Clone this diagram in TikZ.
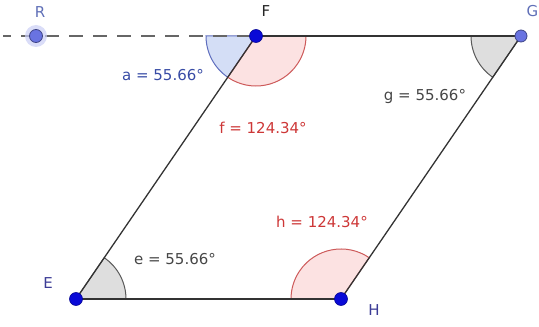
\documentclass[tikz,border=0pt]{standalone}
\usepackage{fontspec}
\setmainfont{DejaVu Sans}
\begin{document}
\begin{tikzpicture}[x=1pt,y=1pt,
  lbl/.style={inner sep=0pt,font=\fontsize{15}{18}\selectfont},
  ptlbl/.style={inner sep=0pt,font=\fontsize{15}{18}\selectfont},
  pt/.style={circle,fill=ptblue,draw=ptblue!70!black,line width=0.6pt,minimum size=13pt,inner sep=0pt},
  selpt/.style={circle,fill=selblue,draw=selblue!60!black,line width=0.8pt,minimum size=13pt,inner sep=0pt},
  seg/.style={draw=black!80,line width=1.3pt},
  bluesec/.style={fill=secblue,draw=secbluedraw,line width=1pt},
  redsec/.style={fill=secred,draw=secreddraw,line width=1pt},
  graysec/.style={fill=secgray,draw=secgraydraw,line width=1pt}]
\definecolor{ptblue}{RGB}{10,10,215}
\definecolor{selblue}{RGB}{105,115,225}
\definecolor{secblue}{RGB}{212,222,246}
\definecolor{secbluedraw}{RGB}{95,110,190}
\definecolor{secred}{RGB}{252,226,226}
\definecolor{secreddraw}{RGB}{205,90,90}
\definecolor{secgray}{RGB}{222,222,222}
\definecolor{secgraydraw}{RGB}{90,90,90}
\definecolor{txtblue}{RGB}{55,75,165}
\definecolor{txtred}{RGB}{205,55,55}
\definecolor{txtgray}{RGB}{70,70,70}
\definecolor{lblblue}{RGB}{60,60,150}
\useasboundingbox (0,0) rectangle (539,327);
\clip (0,0) rectangle (539,327);
% coordinates
\coordinate (Rc) at (36,291);
\coordinate (Fc) at (256,291);
\coordinate (Gc) at (521,291);
\coordinate (Ec) at (76,28);
\coordinate (Hc) at (341,28);
\coordinate (L0) at (3,291);
% angle sectors
\path[bluesec] (Fc) -- ++(180:50) arc[start angle=180,end angle=235.66,radius=50] -- cycle;
\path[redsec] (Fc) -- ++(235.66:50) arc[start angle=235.66,end angle=360,radius=50] -- cycle;
\path[graysec] (Gc) -- ++(180:50) arc[start angle=180,end angle=235.66,radius=50] -- cycle;
\path[graysec] (Ec) -- ++(0:50) arc[start angle=0,end angle=55.66,radius=50] -- cycle;
\path[redsec] (Hc) -- ++(55.66:50) arc[start angle=55.66,end angle=180,radius=50] -- cycle;
% lines
\draw[black!60,line width=1.4pt,dash pattern=on 14pt off 10pt,dash phase=6pt] (L0) -- (Gc);
\draw[seg] (Fc) -- (Gc);
\draw[seg] (Fc) -- (Ec);
\draw[seg] (Gc) -- (Hc);
\draw[seg] (Ec) -- (Hc);
% points
\fill[selblue!35,opacity=0.7] (Rc) circle (11pt);
\node[selpt] (R) at (Rc) {};
\node[selpt,minimum size=12pt] (G) at (Gc) {};
\node[pt] (F) at (Fc) {};
\node[pt] (E) at (Ec) {};
\node[pt] (H) at (Hc) {};
% point labels
\node[ptlbl,text=txtblue!80] (Rl) at (40,315) {R};
\node[ptlbl,text=black!85] (Fl) at (266,316) {F};
\node[ptlbl,text=txtblue!80,anchor=east] (Gl) at (538.5,316) {G};
\node[ptlbl,text=lblblue] (El) at (48,44) {E};
\node[ptlbl,text=lblblue] (Hl) at (374,17) {H};
% angle labels
\node[lbl,text=txtblue] (al) at (163,252) {a = 55.66°};
\node[lbl,text=txtred] (fl) at (263,199) {f = 124.34°};
\node[lbl,text=txtgray] (gl) at (425,231) {g = 55.66°};
\node[lbl,text=txtred] (hl) at (322,105) {h = 124.34°};
\node[lbl,text=txtgray] (el) at (175,68) {e = 55.66°};
\end{tikzpicture}
\end{document}
